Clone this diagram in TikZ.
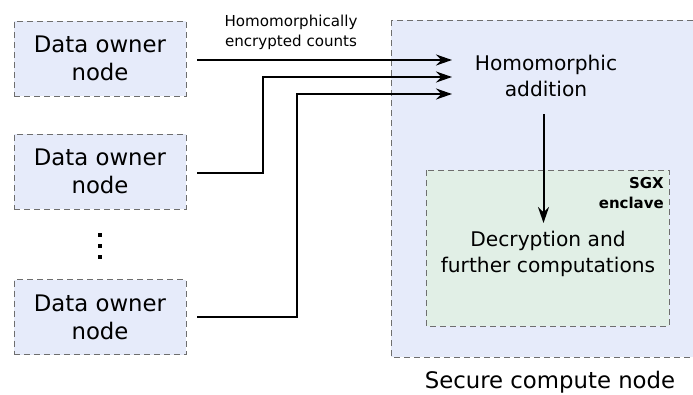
\documentclass[tikz,border=0pt]{standalone}
\usepackage{fontspec}
\setmainfont{DejaVu Sans}
\usetikzlibrary{arrows.meta}
\definecolor{nodeblue}{HTML}{E6EBFA}
\definecolor{enclavegreen}{HTML}{E1EFE6}
\definecolor{edgegray}{HTML}{6E6E6E}
\tikzset{
  dashbox/.style={draw=edgegray, line width=1pt, dash pattern=on 6pt off 4pt},
  ownerbox/.style={dashbox, fill=nodeblue, minimum width=172pt, minimum height=75pt,
    align=center, inner sep=0pt, font=\fontsize{22.8}{28}\selectfont},
  conn/.style={line width=2pt, -{Stealth[length=16pt,width=11pt]}},
  midtext/.style={align=center, font=\fontsize{20.2}{26}\selectfont},
}
\begin{document}
\begin{tikzpicture}[x=1pt,y=-1pt]
\useasboundingbox (0,0) rectangle (693,394);

% secure compute node (its right side runs off the page) and the enclave inside it
\begin{scope}
\clip (0,0) rectangle (693,394);
\path[dashbox, fill=nodeblue] (391,20) rectangle (760,357);
\end{scope}
\path[dashbox, fill=enclavegreen] (426,170) rectangle (669,326);
\node[anchor=east, align=right, inner sep=0pt,
  font=\fontsize{15}{20}\bfseries\selectfont] (sgx) at (664,193) {SGX\\enclave};
\node[font=\fontsize{22.8}{28}\selectfont, inner sep=0pt] (secure) at (550,382) {Secure compute node};

% data owners
\node[ownerbox] (d1) at (100,58.5) {Data owner\\node};
\node[ownerbox] (d2) at (100,171.5) {Data owner\\node};
\node[ownerbox] (d3) at (100,317) {Data owner\\node};
\foreach \y in {235,246,257} \fill (97.5,\y-2) rectangle (101.5,\y+2);

% processing steps
\node[midtext, inner sep=0pt] (hom) at (546,76) {Homomorphic\\addition};
\node[midtext, inner sep=0pt] (dec) at (548,254) {Decryption and\\further computations};

\node[align=center, inner sep=0pt, font=\fontsize{15.1}{20}\selectfont] (lbl) at (291,32)
  {Homomorphically\\encrypted counts};

% connector end points
\coordinate (s1) at (197,60);
\coordinate (s2) at (197,173);
\coordinate (s3) at (197,317);
\coordinate (t1) at (452,60);
\coordinate (t2) at (452,77);
\coordinate (t3) at (452,94);
\coordinate (hb) at (543.5,114);
\coordinate (dt) at (543.5,223);

\draw[conn] (s1) -- (t1);
\draw[conn] (s2) -- (263,173) -- (263,77) -- (t2);
\draw[conn] (s3) -- (297,317) -- (297,94) -- (t3);
\draw[conn] (hb) -- (dt);
\end{tikzpicture}
\end{document}
